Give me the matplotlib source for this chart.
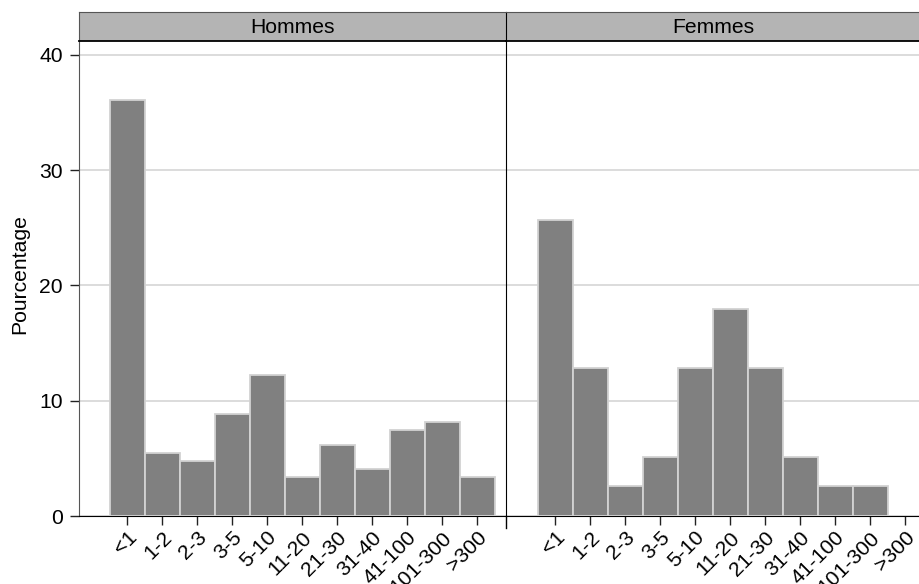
import numpy as np
import matplotlib.pyplot as plt
from matplotlib.lines import Line2D

plt.rcParams['font.family'] = ['Liberation Sans', 'DejaVu Sans']

# Categories (same for both panels)
categories = ['<1', '1-2', '2-3', '3-5', '5-10', '11-20', '21-30',
              '31-40', '41-100', '101-300', '>300']

# Percentages
hommes = [36.05, 5.44, 4.76, 8.84, 12.24, 3.40, 6.12, 4.08, 7.48, 8.16, 3.40]
femmes = [25.64, 12.82, 2.56, 5.13, 12.82, 17.95, 12.82, 5.13, 2.56, 2.56, 0.0]

panel_titles = ['Hommes', 'Femmes']
y_ticks = [0, 10, 20, 30, 40]

W, H = 920, 584
fs = 15.2

bar_color = '#808080'
edge_color = '#d2d2d2'
grid_color = '#d9d9d9'
strip_color = '#b4b4b4'

fig = plt.figure(figsize=(W / 100, H / 100), dpi=100)

# panel geometry in pixels (left, right)
top_px, bottom_px, strip_top_px = 41, 516, 11.5
panels = [(79, 506), (506, 920)]
px_per_unit = 35.0
first_center = [127, 555]

x = np.arange(len(categories))

for i, ((l, r), vals) in enumerate(zip(panels, [hommes, femmes])):
    ax = fig.add_axes([l / W, 1 - bottom_px / H, (r - l) / W, (bottom_px - top_px) / H])
    ax.bar(x, vals, width=1.0, color=bar_color, edgecolor=edge_color,
           linewidth=1.3, zorder=3)
    x0 = (l - first_center[i]) / px_per_unit
    x1 = (r - first_center[i]) / px_per_unit
    ax.set_xlim(x0, x1)
    ax.set_ylim(0, 41.2)
    ax.set_yticks(y_ticks)
    ax.yaxis.grid(True, color=grid_color, linewidth=1.3, zorder=0)
    ax.set_axisbelow(True)
    ax.set_xticks(x)
    ax.set_xticklabels(categories, rotation=45, ha='right', va='top',
                       rotation_mode='anchor', fontsize=fs)
    ax.tick_params(axis='x', length=6.5, width=1, color='#222222', pad=2)
    for s in ['top', 'right']:
        ax.spines[s].set_visible(False)
    ax.spines['bottom'].set_color('black')
    ax.spines['left'].set_color('#555555' if i == 0 else 'black')
    if i == 0:
        ax.tick_params(axis='y', length=6.5, width=1, color='#222222',
                       labelsize=fs, pad=5)
    else:
        ax.tick_params(axis='y', length=0, labelleft=False)
        # divider continues a bit below the x axis
        ax.add_line(Line2D([0, 0], [0, -12 / (bottom_px - top_px)],
                           transform=ax.transAxes, color='black',
                           linewidth=1, clip_on=False))

    # header strip
    sa = fig.add_axes([l / W, 1 - top_px / H, (r - l) / W, (top_px - strip_top_px) / H])
    sa.set_facecolor(strip_color)
    sa.set_xticks([])
    sa.set_yticks([])
    sa.spines['top'].set_color('#555555')
    sa.spines['bottom'].set_color('black')
    sa.spines['bottom'].set_linewidth(1.3)
    sa.spines['left'].set_color('#555555' if i == 0 else 'black')
    sa.spines['right'].set_visible(False)
    sa.text(0.5, 0.45, panel_titles[i], ha='center', va='center',
            fontsize=fs, transform=sa.transAxes)

fig.text(20 / W, 1 - 274 / H, 'Pourcentage', rotation=90, ha='center',
         va='center', fontsize=fs)

fig.savefig('out.png', dpi=100)
